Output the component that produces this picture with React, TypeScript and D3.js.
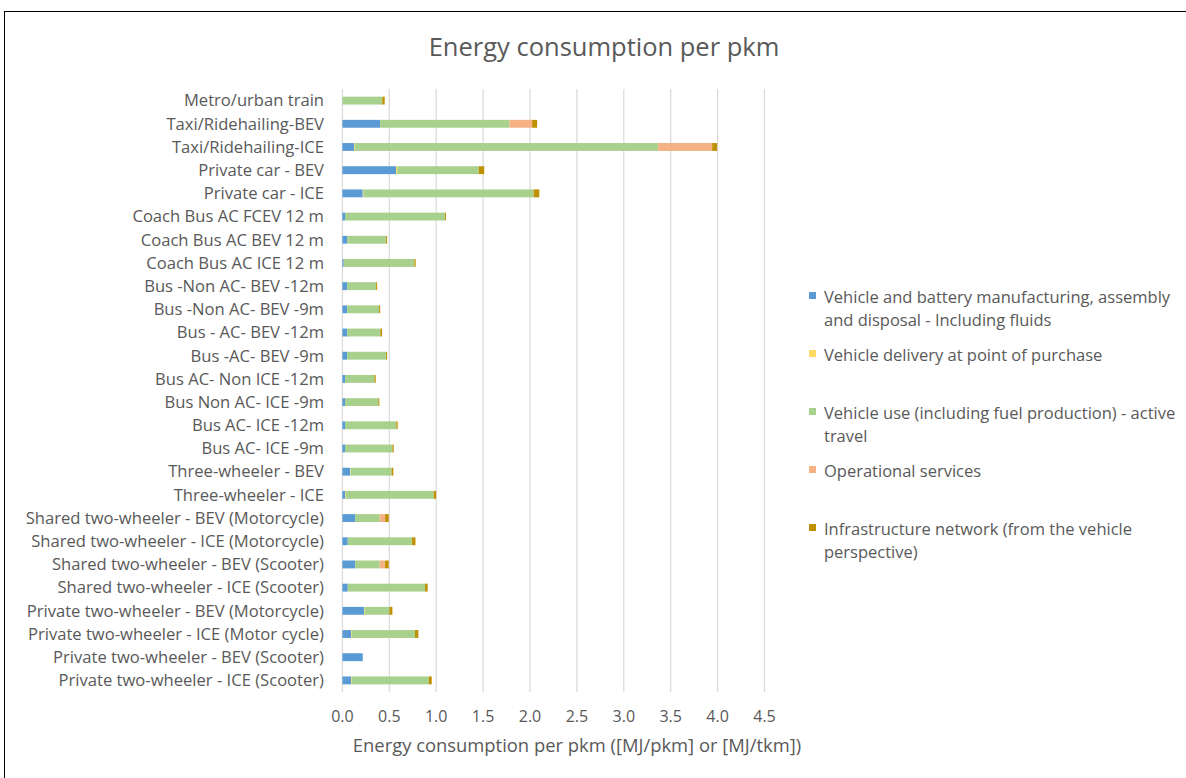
import React from "react";
import * as d3 from "d3";

const categories = [
  "Metro/urban train",
  "Taxi/Ridehailing-BEV",
  "Taxi/Ridehailing-ICE",
  "Private car - BEV",
  "Private car - ICE",
  "Coach Bus AC FCEV 12 m",
  "Coach Bus AC BEV 12 m",
  "Coach Bus AC ICE 12 m",
  "Bus -Non AC- BEV -12m",
  "Bus -Non AC- BEV -9m",
  "Bus - AC- BEV -12m",
  "Bus -AC- BEV -9m",
  "Bus AC- Non ICE -12m",
  "Bus Non  AC- ICE -9m",
  "Bus AC- ICE -12m",
  "Bus  AC- ICE -9m",
  "Three-wheeler - BEV",
  "Three-wheeler - ICE",
  "Shared two-wheeler - BEV (Motorcycle)",
  "Shared two-wheeler - ICE (Motorcycle)",
  "Shared two-wheeler - BEV (Scooter)",
  "Shared two-wheeler - ICE (Scooter)",
  "Private two-wheeler - BEV (Motorcycle)",
  "Private two-wheeler - ICE (Motor cycle)",
  "Private two-wheeler - BEV (Scooter)",
  "Private two-wheeler - ICE (Scooter)",
];

const manufacturing = [0, 0.402, 0.124, 0.572, 0.217, 0.028, 0.05, 0.014, 0.05, 0.05, 0.05, 0.05, 0.028, 0.028, 0.028, 0.028, 0.082, 0.028, 0.135, 0.057, 0.135, 0.057, 0.231, 0.092, 0.217, 0.092];
const delivery = [0, 0, 0.008, 0.012, 0.006, 0, 0, 0, 0, 0, 0, 0, 0, 0, 0, 0, 0.006, 0.008, 0, 0, 0, 0, 0.007, 0.007, 0, 0.007];
const vehicleUse = [0.426, 1.379, 3.234, 0.871, 1.816, 1.066, 0.416, 0.753, 0.309, 0.341, 0.355, 0.416, 0.313, 0.355, 0.547, 0.505, 0.437, 0.938, 0.263, 0.686, 0.263, 0.824, 0.263, 0.675, 0, 0.821];
const operational = [0, 0.242, 0.576, 0, 0, 0, 0, 0, 0, 0, 0, 0, 0, 0, 0, 0, 0, 0, 0.057, 0, 0.057, 0, 0, 0, 0, 0];
const infrastructure = [0.025, 0.053, 0.053, 0.057, 0.06, 0.01, 0.011, 0.014, 0.011, 0.011, 0.018, 0.011, 0.014, 0.011, 0.014, 0.014, 0.018, 0.025, 0.039, 0.036, 0.039, 0.028, 0.032, 0.036, 0, 0.032];

const xTicks = [0, 0.5, 1, 1.5, 2, 2.5, 3, 3.5, 4, 4.5];

const seriesNames = [
  ["Vehicle and battery manufacturing, assembly", "and disposal - Including fluids"],
  ["Vehicle delivery at point of purchase"],
  ["Vehicle use (including fuel production) - active", "travel"],
  ["Operational services"],
  ["Infrastructure network (from the vehicle", "perspective)"],
];
const seriesColors = ["#5B9BD5", "#FFD966", "#A9D18E", "#F4B183", "#BF9000"];
const seriesValues = [manufacturing, delivery, vehicleUse, operational, infrastructure];

const FONT = "'Open Sans', Lato, sans-serif";
const TEXT = "#595959";

export default function App() {
  const x = d3.scaleLinear().domain([0, 4.5]).range([342.4, 764.5]);
  const y = d3.scaleBand<string>().domain(categories).range([89, 692]).paddingInner(0.66).paddingOuter(0.33);

  const rows = categories.map((c, i) => {
    let acc = 0;
    const segs = seriesValues.map((vals, s) => {
      const x0 = acc;
      acc += vals[i];
      return { s, x0, x1: acc };
    });
    return { c, segs };
  });

  const legendY = [297, 355, 413, 471, 529];

  return (
    <div style={{ position: "absolute", left: 0, top: 0 }}>
      <svg width={1186} height={778} style={{ display: "block", fontFamily: FONT }}>
        <rect x={0} y={0} width={1186} height={778} fill="#fff" />
        <rect x={4.5} y={11.5} width={1190} height={800} fill="none" stroke="#000" strokeWidth={1} />
        <text x={604} y={56} textAnchor="middle" fontSize={25.5} fill={TEXT}>
          Energy consumption per pkm
        </text>
        {xTicks.map((t) => (
          <g key={t}>
            <line x1={x(t)} x2={x(t)} y1={89} y2={692} stroke="#d9d9d9" strokeWidth={1.2} />
            <text x={x(t)} y={722} textAnchor="middle" fontSize={16} fill={TEXT}>
              {d3.format(".1f")(t)}
            </text>
          </g>
        ))}
        {rows.map((r) => (
          <g key={r.c}>
            <text x={324} y={(y(r.c) as number) + y.bandwidth() / 2 + 5.8} textAnchor="end" fontSize={16.6} fill={TEXT}>
              {r.c}
            </text>
            {r.segs
              .filter((sg) => sg.x1 > sg.x0)
              .map((sg) => (
                <rect
                  key={sg.s}
                  x={x(sg.x0)}
                  width={x(sg.x1) - x(sg.x0)}
                  y={y(r.c) as number}
                  height={y.bandwidth()}
                  fill={seriesColors[sg.s]}
                />
              ))}
          </g>
        ))}
        <text x={577} y={752} textAnchor="middle" fontSize={18.4} fill={TEXT}>
          Energy consumption per pkm ([MJ/pkm] or [MJ/tkm])
        </text>
        {seriesNames.map((lines, i) => (
          <g key={i}>
            <rect x={809} y={legendY[i] - 5} width={7} height={7} fill={seriesColors[i]} />
            {lines.map((ln, j) => (
              <text key={j} x={824} y={legendY[i] + 5.8 + j * 23.5} fontSize={16.5} fill={TEXT}>
                {ln}
              </text>
            ))}
          </g>
        ))}
      </svg>
    </div>
  );
}
